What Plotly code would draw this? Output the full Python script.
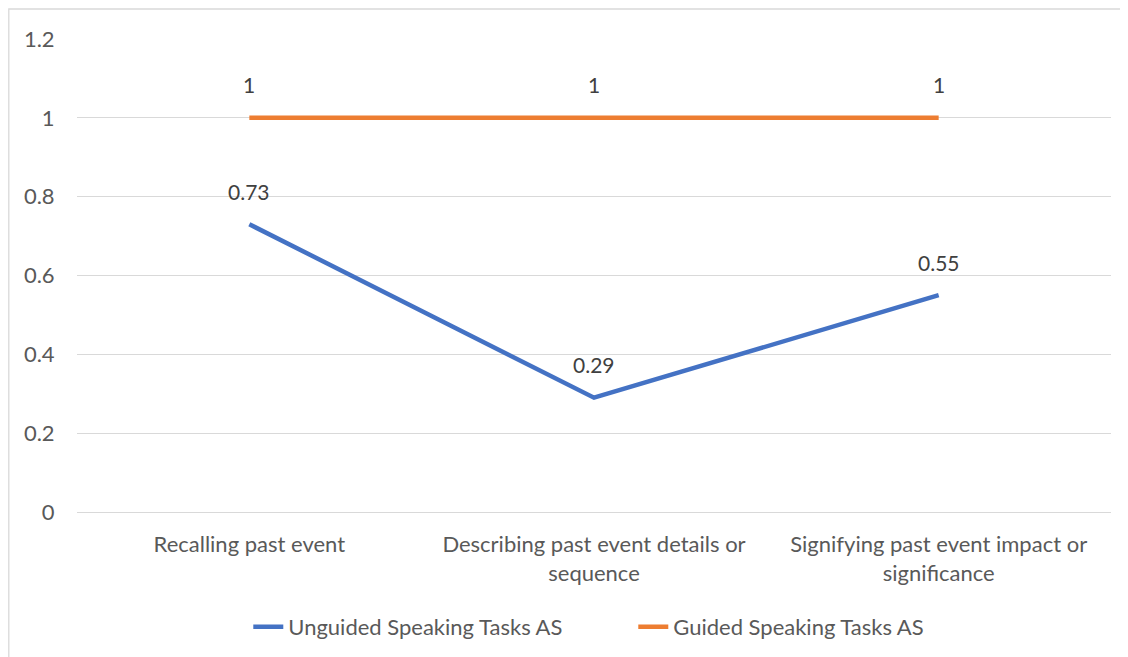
import plotly.graph_objects as go

categories = ["Recalling past event",
              "Describing past event details or<br>sequence",
              "Signifying past event impact or<br>significance"]
unguided = [0.73, 0.29, 0.55]
guided = [1, 1, 1]
series_names = ["Unguided Speaking Tasks AS", "Guided Speaking Tasks AS"]
colors = ["#4472C4", "#ED7D31"]
y_ticks = [0, 0.2, 0.4, 0.6, 0.8, 1, 1.2]

FONT = "Lato"
FS = 22
# page offset of 8px (body margin) compensated
fig = go.Figure()
for name, vals, c in zip(series_names, [unguided, guided], colors):
    fig.add_trace(go.Scatter(x=categories, y=vals, mode="lines", name=name,
                             line=dict(color=c, width=4.5)))
    for x, v in zip(categories, vals):
        fig.add_annotation(x=x, y=v, text=f"{v:g}", showarrow=False, yshift=33,
                           font=dict(family=FONT, size=FS - 1, color="#404040"))

fig.update_layout(
    width=1120, height=649,
    margin=dict(l=69, r=17, t=31, b=145),
    paper_bgcolor="white", plot_bgcolor="white",
    font=dict(family=FONT, size=FS, color="#595959"),
    showlegend=True,
    legend=dict(orientation="h", x=0.538, xanchor="center",
                yref="container", y=1 - 619 / 649, yanchor="middle",
                font=dict(family=FONT, size=FS, color="#595959"),
                entrywidth=340, entrywidthmode="pixels"),
    xaxis=dict(showgrid=False, showline=False, ticks="outside", ticklen=13,
               tickcolor="rgba(0,0,0,0)", tickfont=dict(size=FS),
               range=[-0.5, 2.5]),
    yaxis=dict(range=[0, 1.2], tickvals=y_ticks, ticktext=[f"{t:g}" for t in y_ticks],
               showgrid=True, gridcolor="#D9D9D9", gridwidth=1.3, zeroline=True,
               zerolinecolor="#D9D9D9", zerolinewidth=1.3, showline=False,
               ticks="outside", ticklen=17, tickcolor="rgba(0,0,0,0)",
               tickfont=dict(size=FS)),
)
fig.add_shape(type="rect", xref="paper", yref="paper",
              x0=(0.8 - 69) / 1034, x1=(1200 - 69) / 1034,
              y0=(504 - 700) / 473, y1=(504 - 1) / 473,
              line=dict(color="#D9D9D9", width=1.3), fillcolor="rgba(0,0,0,0)",
              layer="below")
fig.write_html("out.html")
